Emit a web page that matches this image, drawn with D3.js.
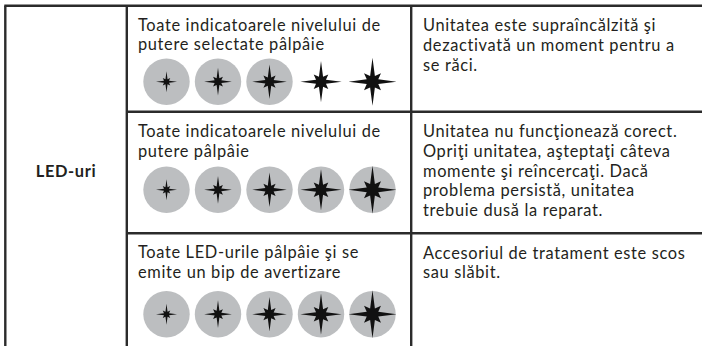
<!DOCTYPE html>
<html><head><meta charset="utf-8">
<script src="https://cdn.jsdelivr.net/npm/d3@7"></script>
<style>html,body{margin:0;padding:0;background:#fff;}svg{display:block;}</style>
</head><body>
<svg id="c" width="702" height="346"></svg>
<script>
// ---- data ----
const groupLabel = "LED-uri";
const conditions = [
  ["Toate indicatoarele nivelului de", "putere selectate pâlpâie"],
  ["Toate indicatoarele nivelului de", "putere pâlpâie"],
  ["Toate LED-urile pâlpâie şi se", "emite un bip de avertizare"]
];
const meanings = [
  ["Unitatea este supraîncălzită şi", "dezactivată un moment pentru a", "se răci."],
  ["Unitatea nu funcţionează corect.", "Opriţi unitatea, aşteptaţi câteva", "momente şi reîncercaţi. Dacă", "problema persistă, unitatea", "trebuie dusă la reparat."],
  ["Accesoriul de tratament este scos", "sau slăbit."]
];
const levels = [1, 2, 3, 4, 5];
const lit = [
  [true, true, true, false, false],
  [true, true, true, true, true],
  [true, true, true, true, true]
];

// ---- layout ----
const svg = d3.select("#c");
const W = 702, H = 346;
const ink = "#231f20", line = "#2b2b2b", grey = "#bcbec0";
const font = "Lato, 'Open Sans', sans-serif";
const fs = 16.4, lh = 19.7, ls = 0.65;
const rowEdges = [5.7, 111.8, 233.2, 346];
const colX = [5.3, 126.8, 411.2, W];
const circleOffset = [76, 78, 81];

const xStar = d3.scalePoint().domain(levels).range([166.5, 372.5]);
const rStar = d3.scaleLinear().domain([1, 5]).range([10.5, 24]);

function starPath(R) {
  const pts = [];
  for (let i = 0; i < 16; i++) {
    const a = i * Math.PI / 8 - Math.PI / 2;
    let r;
    if (i % 4 === 0) r = R;
    else if (i % 4 === 2) r = R * 0.5;
    else r = R * 0.26;
    pts.push([r * Math.cos(a), r * Math.sin(a)]);
  }
  return d3.line()(pts) + "Z";
}

function block(lines, x, y0) {
  lines.forEach((s, j) => svg.append("text")
    .attr("x", x).attr("y", y0 + j * lh)
    .attr("font-family", font).attr("font-size", fs)
    .attr("letter-spacing", ls).attr("fill", ink).text(s));
}
conditions.forEach((lines, i) => block(lines, 138, rowEdges[i] + 25));
meanings.forEach((lines, i) => block(lines, 423, rowEdges[i] + 25.5));

svg.append("text").attr("x", (colX[0] + colX[1]) / 2).attr("y", 177)
  .attr("text-anchor", "middle").attr("font-family", font).attr("font-weight", "bold")
  .attr("font-size", fs).attr("letter-spacing", ls).attr("fill", ink).text(groupLabel);

// icons
lit.forEach((row, i) => {
  const cy = rowEdges[i] + circleOffset[i];
  const g = svg.append("g");
  g.selectAll("circle").data(levels.filter((d, k) => row[k])).join("circle")
    .attr("cx", d => xStar(d)).attr("cy", cy).attr("r", 23.2).attr("fill", grey);
  g.selectAll("path").data(levels).join("path")
    .attr("transform", d => `translate(${xStar(d)},${cy})`)
    .attr("d", d => starPath(rStar(d))).attr("fill", "#111");
});

// grid lines
const gl = svg.append("g").attr("stroke", line).attr("fill", "none");
gl.append("line").attr("x1", colX[0] - 1).attr("x2", W).attr("y1", rowEdges[0]).attr("y2", rowEdges[0]).attr("stroke-width", 2.6);
[1, 2].forEach(k => gl.append("line").attr("x1", colX[1]).attr("x2", W).attr("y1", rowEdges[k]).attr("y2", rowEdges[k]).attr("stroke-width", 2.4));
[0, 1, 2].forEach(k => gl.append("line").attr("x1", colX[k]).attr("x2", colX[k]).attr("y1", rowEdges[0]).attr("y2", H).attr("stroke-width", 2.4));
</script>
</body></html>
